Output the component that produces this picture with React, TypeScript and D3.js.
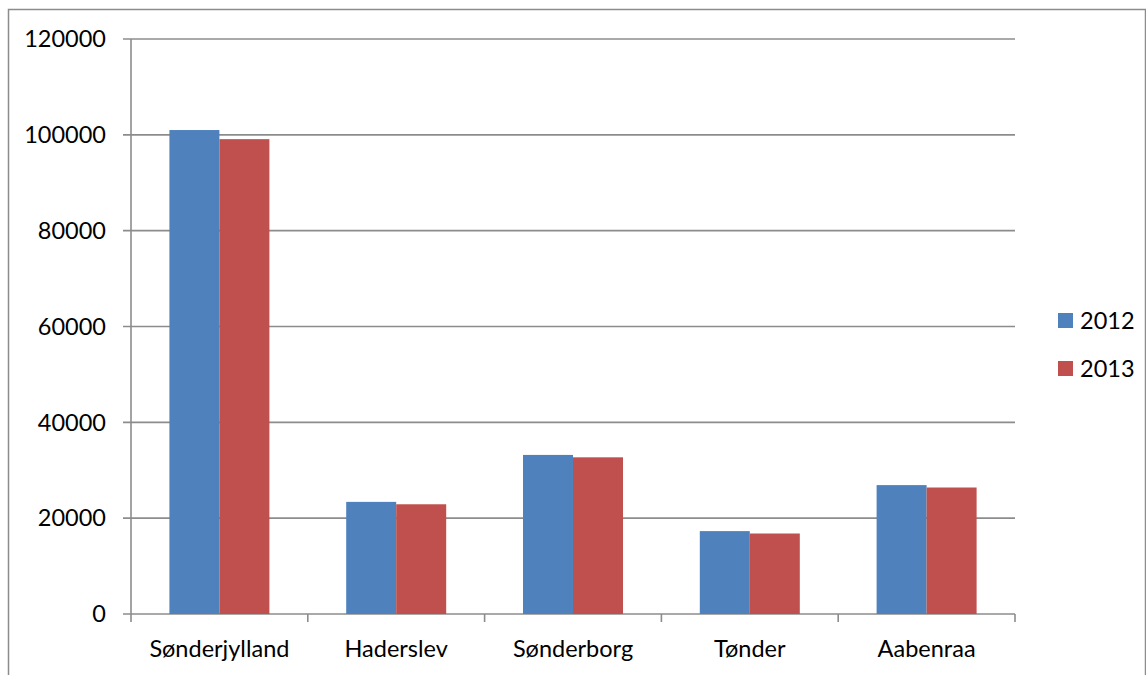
import React from "react";
import * as d3 from "d3";

const categories = ["Sønderjylland", "Haderslev", "Sønderborg", "Tønder", "Aabenraa"];
const seriesNames = ["2012", "2013"];
const values2012 = [101000, 23400, 33200, 17300, 26900];
const values2013 = [99100, 22900, 32700, 16800, 26400];
const yTicks = [0, 20000, 40000, 60000, 80000, 100000, 120000];
const colors = ["#4F81BD", "#C0504D"];

const W = 1146;
const H = 675;
const plot = { left: 131, right: 1015, top: 39, bottom: 614 };
const FONT = "Lato, 'Open Sans', sans-serif";
const FS = 23.5;

export default function App() {
  const x = d3
    .scaleBand<string>()
    .domain(categories)
    .range([plot.left, plot.right])
    .paddingInner(0)
    .paddingOuter(0);
  const inner = d3
    .scaleBand<string>()
    .domain(seriesNames)
    .range([0, x.bandwidth()])
    .paddingOuter(0.768)
    .paddingInner(0);
  const y = d3.scaleLinear().domain([0, 120000]).range([plot.bottom, plot.top]);
  const series = [values2012, values2013];
  const grid = "#8c8c8c";
  const boundaries = categories.map((c) => x(c)!).concat([plot.right]);

  return (
    <svg
      width={W}
      height={H}
      style={{ position: "absolute", left: 0, top: 0, background: "#fff" }}
      fontFamily={FONT}
    >
      <rect x={8.5} y={9.5} width={1137} height={700} fill="#fff" stroke={grid} strokeWidth={1.5} />
      {yTicks.map((t) => (
        <g key={t}>
          <line x1={plot.left - 8} x2={plot.right} y1={y(t)} y2={y(t)} stroke={grid} strokeWidth={1.6} />
          <text x={106} y={y(t)} dy="0.35em" textAnchor="end" fontSize={FS} fill="#000">
            {t}
          </text>
        </g>
      ))}
      <line x1={plot.left} x2={plot.left} y1={plot.top} y2={plot.bottom + 8} stroke={grid} strokeWidth={1.6} />
      {boundaries.slice(1).map((b, i) => (
        <line key={i} x1={b} x2={b} y1={plot.bottom} y2={plot.bottom + 8} stroke={grid} strokeWidth={1.6} />
      ))}
      {categories.map((c, ci) =>
        seriesNames.map((s, si) => {
          const v = series[si][ci];
          const bx = x(c)! + inner(s)!;
          return (
            <rect
              key={c + s}
              x={bx}
              y={y(v)}
              width={inner.bandwidth()}
              height={y(0) - y(v)}
              fill={colors[si]}
            />
          );
        })
      )}
      {categories.map((c) => (
        <text
          key={c}
          x={x(c)! + x.bandwidth() / 2}
          y={657}
          textAnchor="middle"
          fontSize={FS}
          fill="#000"
        >
          {c}
        </text>
      ))}
      {seriesNames.map((s, i) => (
        <g key={s} transform={`translate(1058, ${313 + i * 48})`}>
          <rect x={0} y={0} width={15} height={15} fill={colors[i]} />
          <text x={22} y={7.5} dy="0.35em" fontSize={FS} fill="#000">
            {s}
          </text>
        </g>
      ))}
    </svg>
  );
}
